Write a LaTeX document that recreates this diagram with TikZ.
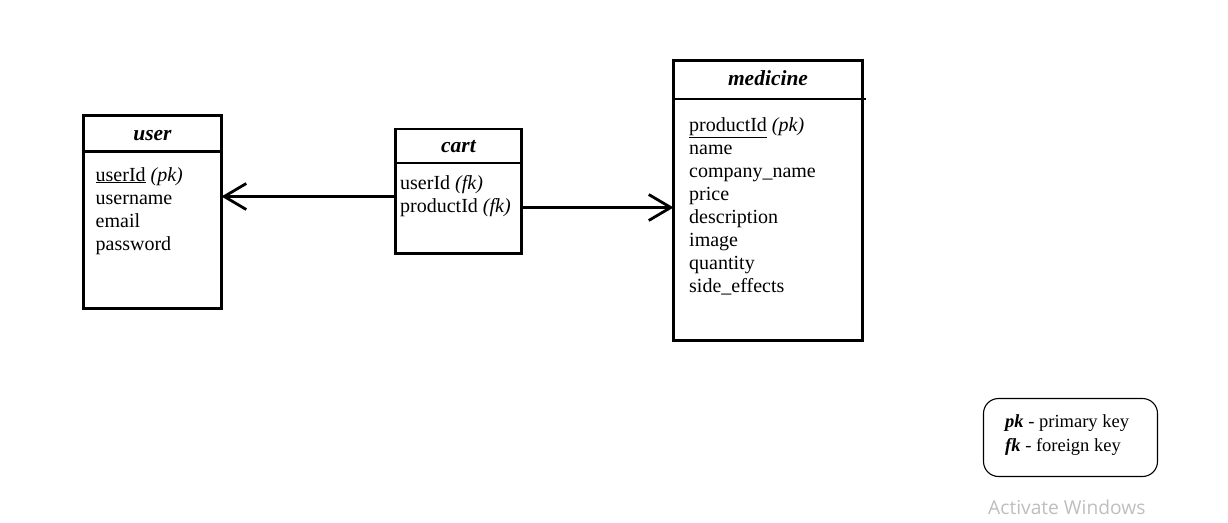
\documentclass[tikz,border=0pt]{standalone}
\usepackage{fontspec}
\setmainfont{Liberation Serif}
\newfontfamily\winfont{Open Sans}
\usetikzlibrary{arrows.meta,calc}
\definecolor{wmgray}{RGB}{190,190,190}
\tikzset{
  tblbox/.style={draw, line width=2.8pt, inner sep=0pt, outer sep=0pt, anchor=north west},
  ttl/.style={inner sep=0pt, anchor=base, font=\fontsize{21.5}{24}\selectfont\bfseries\itshape},
  fld/.style={inner sep=0pt, anchor=base west, font=\fontsize{20}{23}\selectfont},
  conn/.style={line width=2.8pt, -{Straight Barb[length=22pt, width=26pt, line width=2.8pt]}},
  legbox/.style={draw, line width=1.1pt, rounded corners=15pt, inner sep=0pt, outer sep=0pt, anchor=north west},
  legtxt/.style={inner sep=0pt, anchor=base west, font=\fontsize{18.5}{23}\selectfont},
}
\begin{document}
\begin{tikzpicture}[x=1pt,y=-1pt]
\useasboundingbox (0,0) rectangle (1228,522);
% user table
\node[tblbox, minimum width=138pt, minimum height=36pt] (userH) at (83.5,115.5) {};
\node[tblbox, minimum width=138pt, minimum height=157pt] (userB) at (userH.south west) {};
\node[ttl] (userT) at (152.5,140) {user};
\foreach \t [count=\i] in {{\underline{userId} \textit{(pk)}},username,email,password}
  \node[fld] (uf\i) at (95.5,181+23*\i-23) {\t};
% cart table
\node[tblbox, minimum width=126pt, minimum height=34pt] (cartH) at (395.5,129) {};
\node[tblbox, minimum width=126pt, minimum height=90.5pt] (cartB) at (cartH.south west) {};
\node[ttl] (cartT) at (458.5,152.5) {cart};
\foreach \t [count=\i] in {{userId \textit{(fk)}},{productId \textit{(fk)}}}
  \node[fld] (cf\i) at (400,189.5+23*\i-23) {\t};
% medicine table
\node[tblbox, minimum width=189pt, minimum height=38.5pt] (medH) at (673.5,60.5) {};
\node[tblbox, minimum width=189pt, minimum height=241.5pt] (medB) at (medH.south west) {};
\draw[line width=2.8pt] (medH.south east) -- ++(3,0);
\node[ttl] (medT) at (768,85) {medicine};
\foreach \t [count=\i] in {{\underline{productId} \textit{(pk)}},name,company\_name,price,description,image,quantity,side\_effects}
  \node[fld] (mf\i) at (689,131.5+23*\i-23) {\t};
% connectors
\coordinate (c1) at (0,196.5);
\coordinate (c2) at (0,207.5);
\draw[conn] (cartB.west |- c1) -- (userB.east |- c1);
\draw[conn] (cartB.east |- c2) -- (medB.west |- c2);
% legend
\node[legbox, minimum width=174pt, minimum height=78pt] (leg) at (983.5,398.5) {};
\node[legtxt] (leg1) at (1005,427.5) {\textbf{\textit{pk}} - primary key};
\node[legtxt] (leg2) at (1005,451.5) {\textbf{\textit{fk}} - foreign key};
% watermark
\node[inner sep=0pt, anchor=base west, text=wmgray, font=\winfont\fontsize{19.2}{22}\selectfont] (wm) at (988,514) {Activate Windows};
\end{tikzpicture}
\end{document}
